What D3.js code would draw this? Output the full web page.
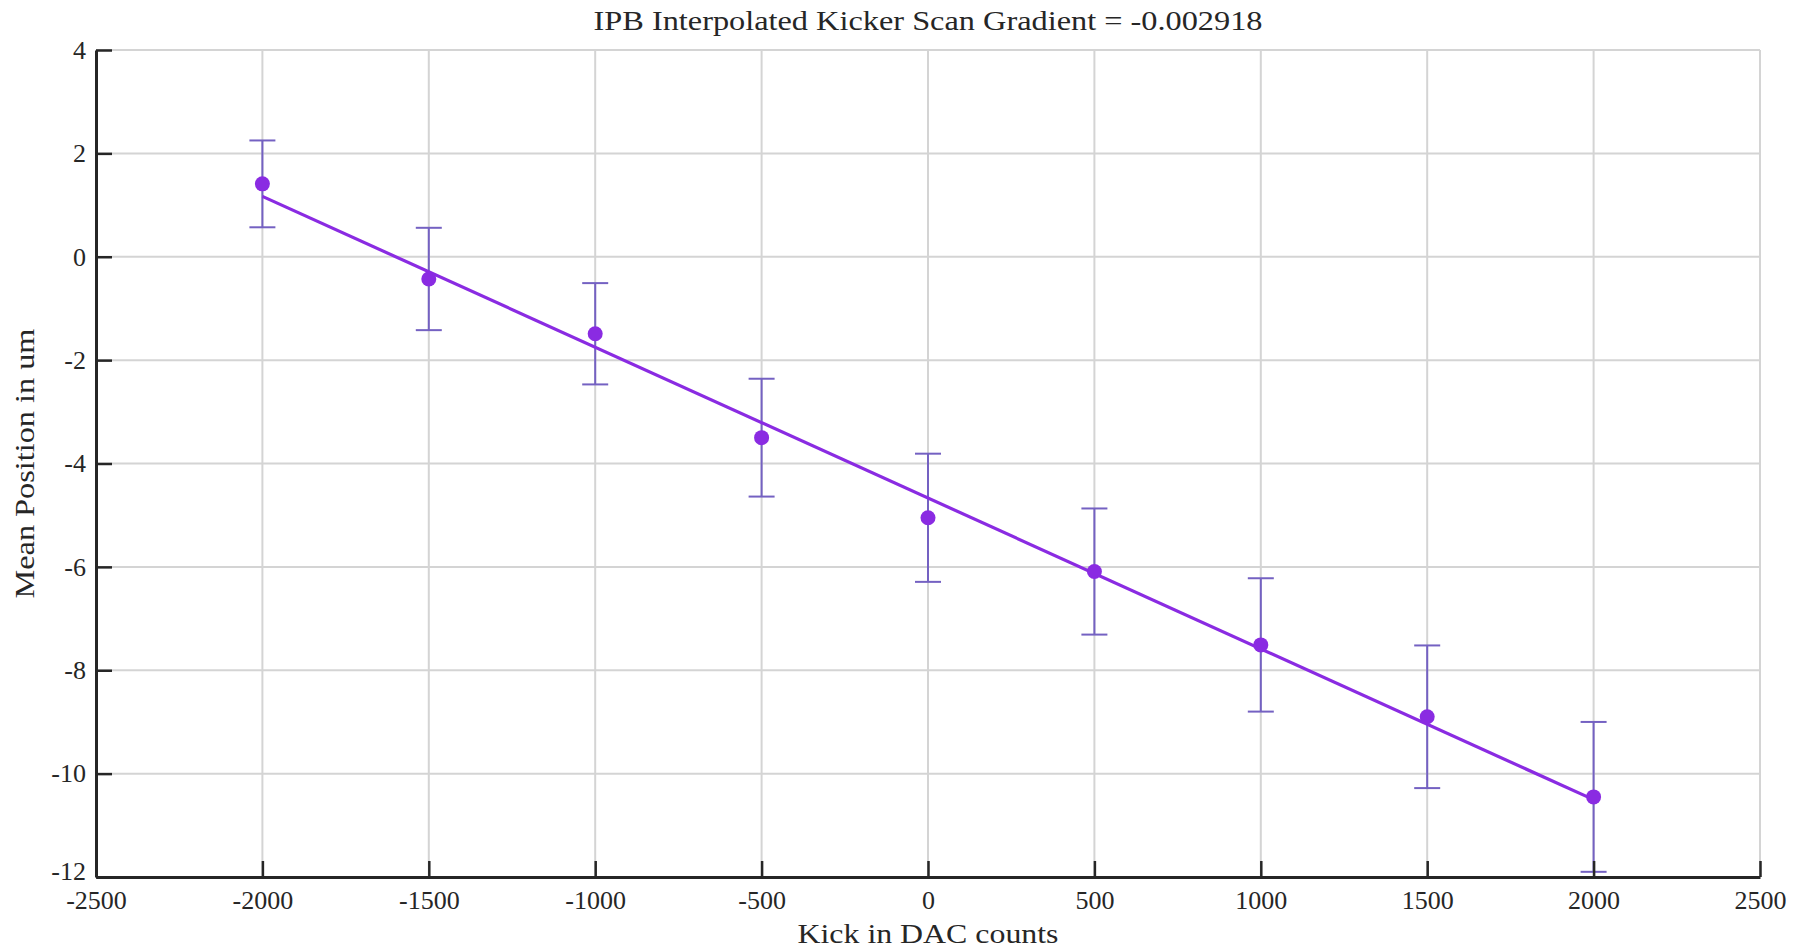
<!DOCTYPE html>
<html>
<head>
<meta charset="utf-8">
<script src="https://cdn.jsdelivr.net/npm/d3@7"></script>
<style>
  html, body { margin: 0; padding: 0; background: #fff; }
  svg { display: block; }
  text { font-family: "Liberation Serif", "DejaVu Serif", serif; fill: #262626; }
</style>
</head>
<body>
<svg id="chart" width="1793" height="949"></svg>
<script>
// Kicker scan: DAC kick vs. mean beam position with 1-sigma errors
const kicks = [-2000, -1500, -1000, -500, 0, 500, 1000, 1500, 2000];
const meanPos = [1.41, -0.43, -1.49, -3.50, -5.05, -6.09, -7.51, -8.90, -10.45];
const posErr = [0.84, 0.99, 0.98, 1.14, 1.24, 1.22, 1.29, 1.38, 1.45];
const gradient = -0.002918;

const xTicks = [-2500, -2000, -1500, -1000, -500, 0, 500, 1000, 1500, 2000, 2500];
const yTicks = [-12, -10, -8, -6, -4, -2, 0, 2, 4];

const titleText = "IPB Interpolated Kicker Scan Gradient = " + gradient;
const xLabel = "Kick in DAC counts";
const yLabel = "Mean Position in um";

const W = 1793, H = 949;
const margin = { top: 50, right: 33, bottom: 72, left: 96 };

const svg = d3.select("#chart");

const x = d3.scaleLinear().domain([-2500, 2500]).range([margin.left, W - margin.right]);
const y = d3.scaleLinear().domain([-12, 4]).range([H - margin.bottom, margin.top]);

// Fitted line: given gradient, offset through the data centroid
const meanX = d3.mean(kicks), meanY = d3.mean(meanPos);
const intercept = meanY - gradient * meanX;
const fit = v => intercept + gradient * v;

// Grid
const grid = svg.append("g").attr("stroke", "#d4d4d4").attr("stroke-width", 2);
grid.selectAll("line.gx").data(xTicks.filter(t => t !== -2500)).join("line")
  .attr("x1", d => x(d)).attr("x2", d => x(d))
  .attr("y1", y(-12)).attr("y2", y(4));
grid.selectAll("line.gy").data(yTicks.filter(t => t !== -12)).join("line")
  .attr("y1", d => y(d)).attr("y2", d => y(d))
  .attr("x1", x(-2500)).attr("x2", x(2500));

// Error bars
const errColor = "#7461c2";
const capHalf = 13;
const eb = svg.append("g").attr("stroke", errColor).attr("stroke-width", 2);
kicks.forEach((k, i) => {
  const top = y(meanPos[i] + posErr[i]), bot = y(meanPos[i] - posErr[i]);
  eb.append("line").attr("x1", x(k)).attr("x2", x(k)).attr("y1", top).attr("y2", bot);
  eb.append("line").attr("x1", x(k) - capHalf).attr("x2", x(k) + capHalf).attr("y1", top).attr("y2", top);
  eb.append("line").attr("x1", x(k) - capHalf).attr("x2", x(k) + capHalf).attr("y1", bot).attr("y2", bot);
});

// Fit line
const xs = d3.extent(kicks);
svg.append("path")
  .datum(xs)
  .attr("fill", "none")
  .attr("stroke", "#8a2be2")
  .attr("stroke-width", 3.2)
  .attr("d", d3.line().x(d => x(d)).y(d => y(fit(d))));

// Data points
svg.append("g").selectAll("circle").data(kicks).join("circle")
  .attr("cx", d => x(d))
  .attr("cy", (d, i) => y(meanPos[i]))
  .attr("r", 7.5)
  .attr("fill", "#8a2be2");

// Axes (ticks pointing inward)
const fmt = d => String(d);
const xAxis = svg.append("g")
  .attr("transform", `translate(0,${y(-12)})`)
  .call(d3.axisBottom(x).tickValues(xTicks).tickFormat(fmt).tickSizeInner(-16).tickSizeOuter(0).tickPadding(11));
const yAxis = svg.append("g")
  .attr("transform", `translate(${x(-2500)},0)`)
  .call(d3.axisLeft(y).tickValues(yTicks).tickFormat(fmt).tickSizeInner(-16).tickSizeOuter(0).tickPadding(10));

[xAxis, yAxis].forEach(a => {
  a.select(".domain").attr("stroke", "#262626").attr("stroke-width", 3);
  a.selectAll(".tick line").attr("stroke", "#262626").attr("stroke-width", 2.5);
  a.selectAll(".tick text").attr("font-size", 26).attr("fill", "#262626")
    .attr("font-family", "Liberation Serif, DejaVu Serif, serif");
});
xAxis.selectAll(".tick text").attr("dy", "0.8em");
// lowest y label sits a little higher so it clears the x tick labels
yAxis.selectAll(".tick text").filter(d => d === -12).attr("dy", "0.1em");

// Title and axis labels
const cx = (x(-2500) + x(2500)) / 2;
svg.append("text")
  .attr("x", cx).attr("y", 30)
  .attr("text-anchor", "middle").attr("font-size", 28)
  .attr("textLength", 669).attr("lengthAdjust", "spacingAndGlyphs")
  .text(titleText);
svg.append("text")
  .attr("x", cx).attr("y", 943)
  .attr("text-anchor", "middle").attr("font-size", 28)
  .attr("textLength", 261).attr("lengthAdjust", "spacingAndGlyphs")
  .text(xLabel);
svg.append("text")
  .attr("transform", `translate(34,${(y(-12) + y(4)) / 2}) rotate(-90)`)
  .attr("text-anchor", "middle").attr("font-size", 28)
  .attr("textLength", 270).attr("lengthAdjust", "spacingAndGlyphs")
  .text(yLabel);
</script>
</body>
</html>
